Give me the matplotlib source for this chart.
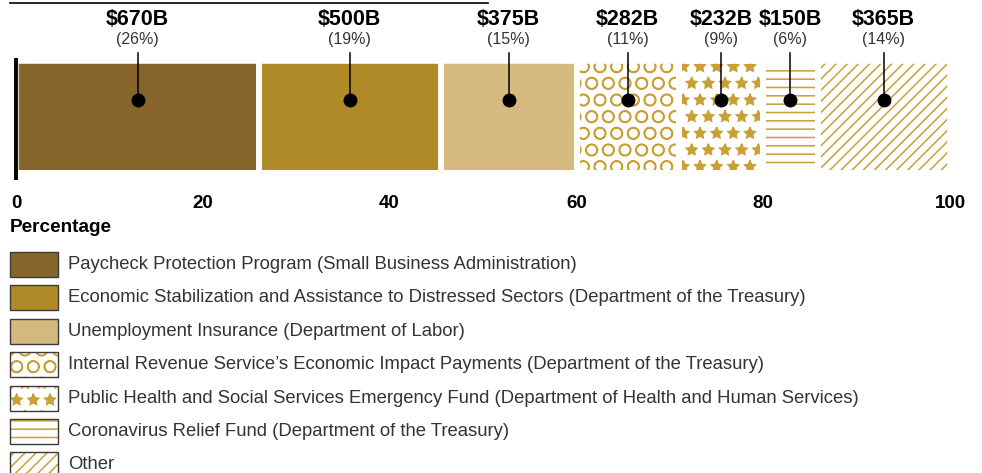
import matplotlib
matplotlib.use('Agg')
import matplotlib.pyplot as plt
from matplotlib.patches import Rectangle
import numpy as np

plt.rcParams['font.family'] = ['Liberation Sans', 'DejaVu Sans']
plt.rcParams['hatch.linewidth'] = 1.1

# Data
programs = [
    "Paycheck Protection Program (Small Business Administration)",
    "Economic Stabilization and Assistance to Distressed Sectors (Department of the Treasury)",
    "Unemployment Insurance (Department of Labor)",
    "Internal Revenue Service\u2019s Economic Impact Payments (Department of the Treasury)",
    "Public Health and Social Services Emergency Fund (Department of Health and Human Services)",
    "Coronavirus Relief Fund (Department of the Treasury)",
    "Other",
]
amounts = [670, 500, 375, 282, 232, 150, 365]      # billions of dollars
pct_labels = [26, 19, 15, 11, 9, 6, 14]

# Styles
face_colors = ['#87652A', '#B08A26', '#D5BA7F', 'white', 'white', 'white', 'white']
hatch_color = '#C9A035'
hatches = [None, None, None, 'O', '*', '--', '///']

shares = np.array(amounts) / sum(amounts) * 100
lefts = np.concatenate([[0], np.cumsum(shares)[:-1]])
centers = lefts + shares / 2

W, H = 982, 473
fig = plt.figure(figsize=(W / 100, H / 100), dpi=100)

# main bar axes (pixel 16..950 horizontally, 20..185 vertically)
ax = fig.add_axes([16 / W, 1 - 185 / H, 934 / W, 165 / H])
ax.set_xlim(0, 100)
ax.set_ylim(0, 1)

bar_y, bar_h = 0.415, 0.6485
for i in range(len(amounts)):
    if hatches[i] is None:
        ax.barh(bar_y, shares[i], left=lefts[i], height=bar_h,
                color=face_colors[i], linewidth=0)
    else:
        ax.barh(bar_y, shares[i], left=lefts[i], height=bar_h,
                facecolor='white', edgecolor=hatch_color, hatch=hatches[i], linewidth=0)
# white separators between segments
ax.barh(bar_y, shares, left=lefts, height=bar_h + 0.03,
        facecolor='none', edgecolor='white', linewidth=4)

# stems, dots and labels
for c, amt, p in zip(centers, amounts, pct_labels):
    ax.plot([c, c], [0.515, 0.80], color='black', lw=1.1, zorder=4)
    ax.plot(c, 0.515, 'o', color='black', markersize=9, zorder=5)
    ax.text(c, 0.879, f"({p}%)", ha='center', va='center', fontsize=11.5, color='#333333')
    ax.text(c, 1.005, f"${amt}B", ha='center', va='center', fontsize=15.5,
            fontweight='bold', color='black', clip_on=False)

# zero line
ax.plot([0, 0], [0.03, 0.77], color='black', lw=2.8, solid_capstyle='butt', clip_on=False, zorder=6)

ax.set_yticks([])
ax.set_xticks([0, 20, 40, 60, 80, 100])
ax.tick_params(axis='x', length=0, pad=7, labelsize=13.5)
for lab in ax.get_xticklabels():
    lab.set_fontweight('bold')
for s in ax.spines.values():
    s.set_visible(False)

# overlay axes in pixel coordinates for the legend and decorations
ov = fig.add_axes([0, 0, 1, 1], zorder=-1)
ov.set_xlim(0, W)
ov.set_ylim(H, 0)
ov.axis('off')

ov.plot([10, 488], [3, 3], color='black', lw=1.2)
ov.text(10, 227, "Percentage", fontsize=13.7, fontweight='bold', va='center', ha='left')

for i, name in enumerate(programs):
    top = 252 + i * 33.4
    if hatches[i] is None:
        ov.add_patch(Rectangle((10, top), 48, 25, facecolor=face_colors[i], linewidth=0))
    else:
        ov.add_patch(Rectangle((10, top), 48, 25, facecolor='white', edgecolor=hatch_color,
                               hatch=hatches[i], linewidth=0))
    ov.add_patch(Rectangle((10, top), 48, 25, facecolor='none', edgecolor='#3a3a3a', linewidth=1.0))
    ov.text(68, top + 12.5, name, fontsize=13.3, color='#333333', va='center', ha='left')

fig.savefig('out.png', dpi=100)
